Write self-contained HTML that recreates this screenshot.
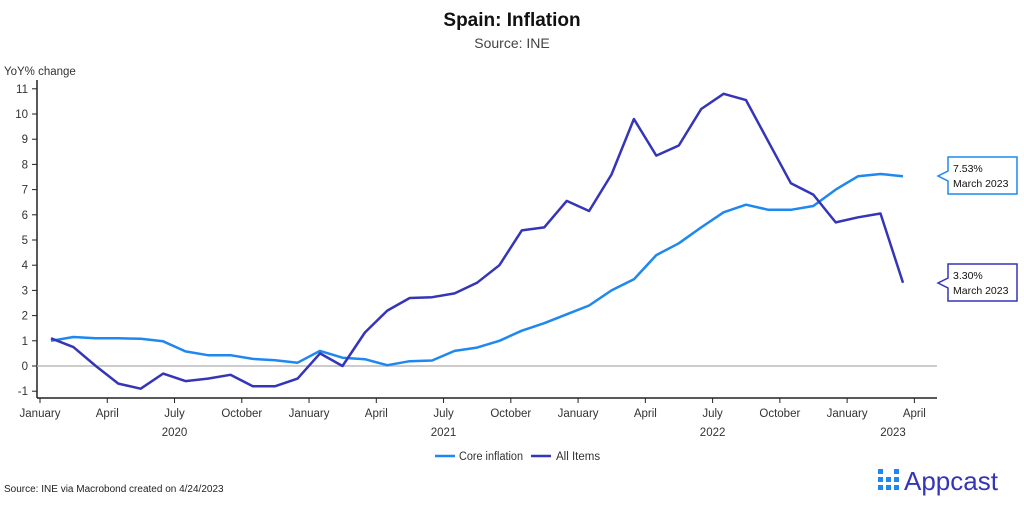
<!DOCTYPE html>
<html><head><meta charset="utf-8"><style>
body{margin:0;background:#fff;font-family:"Liberation Sans",sans-serif}
svg text{font-family:"Liberation Sans",sans-serif;fill:#333}
</style></head><body>
<svg id="s" width="1024" height="503" xmlns="http://www.w3.org/2000/svg">
<text x="512" y="26" text-anchor="middle" font-size="19" font-weight="bold" style="fill:#111">Spain: Inflation</text>
<text x="512" y="48" text-anchor="middle" font-size="14" style="fill:#444">Source: INE</text>
<text x="4" y="75" font-size="11.5">YoY% change</text>
<line x1="37" y1="80" x2="37" y2="398" stroke="#222" stroke-width="1.5"/>
<line x1="37" y1="398" x2="937" y2="398" stroke="#222" stroke-width="1.5"/>
<line x1="37" y1="366" x2="937" y2="366" stroke="#bbb" stroke-width="1.5"/>
<g id="yt"></g><g id="xt"></g>
<polyline id="core" fill="none" stroke="#1e88f0" stroke-width="2.5" stroke-linejoin="round"/>
<polyline id="all" fill="none" stroke="#3535b8" stroke-width="2.5" stroke-linejoin="round"/>
<path d="M948,157 H1017 V194 H948 V181 L938,176 L948,171 Z" fill="#fff" stroke="#1e88f0" stroke-width="1.5"/>
<text x="953" y="172" font-size="10.5" style="fill:#111">7.53%</text>
<text x="953" y="187" font-size="10.5" style="fill:#111">March 2023</text>
<path d="M948,264 H1017 V301 H948 V288 L938,283 L948,278 Z" fill="#fff" stroke="#3535b8" stroke-width="1.5"/>
<text x="953" y="279" font-size="10.5" style="fill:#111">3.30%</text>
<text x="953" y="294" font-size="10.5" style="fill:#111">March 2023</text>
<line x1="435" y1="456" x2="455" y2="456" stroke="#1e88f0" stroke-width="2.5"/>
<text x="459" y="460" font-size="11.5" textLength="64" lengthAdjust="spacingAndGlyphs">Core inflation</text>
<line x1="531" y1="456" x2="551" y2="456" stroke="#3535b8" stroke-width="2.5"/>
<text x="556" y="460" font-size="11.5">All Items</text>
<text x="4" y="492" font-size="10" style="fill:#222">Source: INE via Macrobond created on 4/24/2023</text>
<g fill="#1e88f0">
<rect x="878" y="469" width="5" height="5"/><rect x="878" y="477" width="5" height="5"/><rect x="878" y="485" width="5" height="5"/>
<rect x="886" y="477" width="5" height="5"/><rect x="886" y="485" width="5" height="5"/>
<rect x="894" y="469" width="5" height="5"/><rect x="894" y="477" width="5" height="5"/><rect x="894" y="485" width="5" height="5"/>
</g>
<text x="904" y="490" font-size="26" style="fill:#3535b8">Appcast</text>
</svg>
<script>
var core=[1.0,1.15,1.1,1.1,1.08,0.98,0.58,0.43,0.43,0.28,0.23,0.13,0.6,0.33,0.27,0.03,0.19,0.22,0.6,0.73,1.0,1.4,1.7,2.05,2.4,3.0,3.44,4.4,4.87,5.5,6.1,6.4,6.2,6.2,6.35,7.0,7.53,7.62,7.53];
var all=[1.1,0.75,0.0,-0.7,-0.9,-0.3,-0.6,-0.5,-0.35,-0.8,-0.8,-0.5,0.5,0.0,1.33,2.2,2.7,2.73,2.88,3.3,4.0,5.38,5.5,6.55,6.15,7.6,9.8,8.35,8.75,10.2,10.8,10.55,8.9,7.25,6.8,5.7,5.9,6.05,3.3];
function X(i){return 51+i*22.42}function Y(v){return 366-25.2*v}
function pts(a){return a.map(function(v,i){return X(i).toFixed(1)+','+Y(v).toFixed(1)}).join(' ')}
document.getElementById('core').setAttribute('points',pts(core));
document.getElementById('all').setAttribute('points',pts(all));
var h='';
for(var v=-1;v<=11;v++){var y=Y(v);h+='<line x1="32" y1="'+y+'" x2="37" y2="'+y+'" stroke="#222"/><text x="28" y="'+(y+4)+'" text-anchor="end" font-size="11.5">'+v+'</text>';}
document.getElementById('yt').innerHTML=h;
var m=['January','April','July','October'],yrs={2:'2020',6:'2021',10:'2022'};h='';
for(var k=0;k<14;k++){var x=40+k*3*22.42;h+='<line x1="'+x+'" y1="398" x2="'+x+'" y2="403" stroke="#222"/><text x="'+x+'" y="417" text-anchor="middle" font-size="11.5">'+m[k%4]+'</text>';
if(yrs[k])h+='<text x="'+x+'" y="436" text-anchor="middle" font-size="11.5">'+yrs[k]+'</text>';}
h+='<text x="893" y="436" text-anchor="middle" font-size="11.5">2023</text>';
document.getElementById('xt').innerHTML=h;
</script>
</body></html>
